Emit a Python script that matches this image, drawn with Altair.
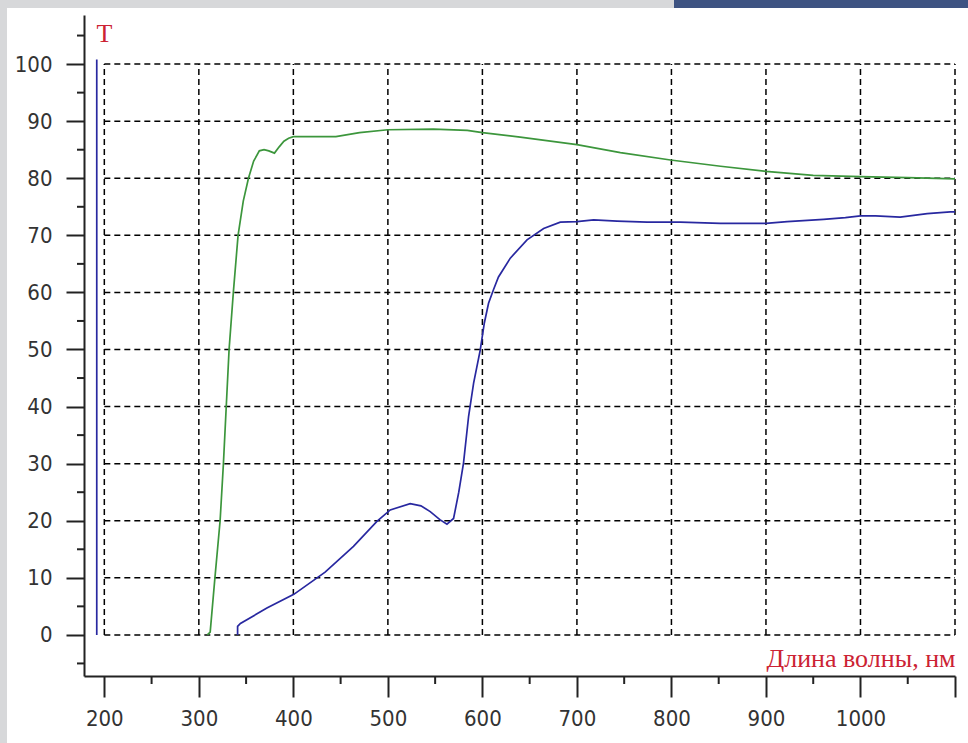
import altair as alt
import pandas as pd

# ---- data ----
green_wl = [309, 312, 317, 322.5, 326, 329, 332, 336.5, 341.5, 347, 352.5, 358, 364, 369, 374,
            380, 385, 390, 395, 400, 445, 470, 500, 548, 584, 600, 640, 700, 746, 799, 852,
            900, 950, 1000, 1050, 1100]
green_t = [0, 0.5, 10, 20, 30, 40, 50, 60, 70, 76, 80, 83, 84.8, 85.0, 84.8,
           84.4, 85.5, 86.5, 87.0, 87.3, 87.3, 88.0, 88.5, 88.6, 88.4, 88.0, 87.2, 85.9, 84.5, 83.2, 82.1,
           81.2, 80.5, 80.3, 80.1, 79.9]

blue_wl = [341, 341, 344, 372, 400.5, 433.6, 463.6, 488.4, 502.5, 523.6, 535, 544.8, 555, 562.5,
           569.5, 575, 580, 585.4, 590.7, 597.7, 602, 606.5, 611.8, 617, 629.5, 647.2, 664.8,
           682.4, 700, 717.7, 742.5, 774.2, 809.5, 851.8, 900, 922.4, 961, 984, 1000, 1016,
           1042, 1070.6, 1095, 1100]
blue_t = [0, 1.5, 2.0, 4.7, 7.1, 11.0, 15.5, 19.9, 21.9, 23.0, 22.6, 21.6, 20.2, 19.4,
          20.4, 25.0, 30.1, 38.3, 44.1, 49.9, 54.6, 58.1, 60.5, 62.7, 66.0, 69.2, 71.2,
          72.3, 72.4, 72.7, 72.5, 72.3, 72.3, 72.1, 72.1, 72.4, 72.8, 73.1, 73.4, 73.4,
          73.2, 73.8, 74.1, 74.1]

spike_wl = [192, 192]
spike_t = [0, 100.8]

x_ticks = list(range(200, 1101, 100))
y_ticks = list(range(0, 101, 10))
x_minor = list(range(250, 1100, 100))
y_minor = [-5] + list(range(5, 106, 10))

# ---- layout ----
W, H = 871, 661
XS = alt.Scale(domain=[178.5, 1100], nice=False, zero=False)
YS = alt.Scale(domain=[-7.2, 108.6], nice=False, zero=False)
LABEL_FONT = "DejaVu Sans Condensed, Liberation Sans Narrow, sans-serif"
RED = "#cc2233"
AXC = "#222222"

X_AXIS = alt.Axis(
    values=x_ticks, format="d", labelExpr="datum.value > 1050 ? '' : datum.label",
    labelOverlap=False, labelFlush=False, grid=False,
    tickSize=21, tickWidth=2, tickColor=AXC, domainColor=AXC, domainWidth=2,
    labelFont=LABEL_FONT, labelFontSize=22, labelColor="#333333", labelPadding=11,
    title="Длина волны, нм", titleX=W, titleY=-10, titleAlign="right",
    titleBaseline="alphabetic", titleFont="Liberation Serif", titleFontSize=26,
    titleFontWeight="normal", titleColor=RED, zindex=1)
Y_AXIS = alt.Axis(
    values=y_ticks, format="d", grid=False, labelOverlap=False, labelFlush=False,
    tickSize=18, tickWidth=2, tickColor=AXC, domainColor=AXC, domainWidth=2,
    labelFont=LABEL_FONT, labelFontSize=22, labelColor="#333333", labelPadding=14,
    title="T", titleAngle=0, titleX=12, titleY=26, titleAlign="left",
    titleBaseline="alphabetic", titleFont="Liberation Serif", titleFontSize=26,
    titleFontWeight="normal", titleColor=RED, zindex=1)

one = pd.DataFrame({"a": [0]})

grey_left = alt.Chart(one).mark_rect(color="#d7d8da").encode(
    x=alt.value(-84), x2=alt.value(-77), y=alt.value(-15), y2=alt.value(728))
grey_top = alt.Chart(one).mark_rect(color="#d7d8da").encode(
    x=alt.value(-84), x2=alt.value(590), y=alt.value(-15), y2=alt.value(-7))
band = alt.Chart(one).mark_rect(color="#3e5382").encode(
    x=alt.value(590), x2=alt.value(884), y=alt.value(-15), y2=alt.value(-7))

vgrid = alt.Chart(pd.DataFrame({"x": x_ticks, "y0": [0] * len(x_ticks), "y1": [100] * len(x_ticks)})).mark_rule(
    color="black", strokeDash=[6, 4], strokeWidth=1.5).encode(
    x=alt.X("x:Q", scale=XS, axis=X_AXIS),
    y=alt.Y("y0:Q", scale=YS, axis=Y_AXIS),
    y2="y1:Q")
hgrid = alt.Chart(pd.DataFrame({"y": y_ticks, "x0": [200] * len(y_ticks), "x1": [1100] * len(y_ticks)})).mark_rule(
    color="black", strokeDash=[6, 4], strokeWidth=1.5).encode(
    y=alt.Y("y:Q", scale=YS, axis=Y_AXIS),
    x=alt.X("x0:Q", scale=XS, axis=X_AXIS),
    x2="x1:Q")

yminor = alt.Chart(pd.DataFrame({"y": y_minor})).mark_rule(color=AXC, strokeWidth=2).encode(
    y=alt.Y("y:Q", scale=YS, axis=Y_AXIS), x=alt.value(-7), x2=alt.value(0))
xminor = alt.Chart(pd.DataFrame({"x": x_minor})).mark_rule(color=AXC, strokeWidth=2).encode(
    x=alt.X("x:Q", scale=XS, axis=X_AXIS), y=alt.value(H), y2=alt.value(H + 8))

green = alt.Chart(pd.DataFrame({"wl": green_wl, "t": green_t})).mark_line(
    color="#3c963c", strokeWidth=1.7).encode(
    x=alt.X("wl:Q", scale=XS, axis=X_AXIS),
    y=alt.Y("t:Q", scale=YS, axis=Y_AXIS),
    order="wl:Q")
blue = alt.Chart(pd.DataFrame({"wl": blue_wl, "t": blue_t, "i": list(range(len(blue_wl)))})).mark_line(
    color="#2828a0", strokeWidth=1.7).encode(
    x=alt.X("wl:Q", scale=XS, axis=X_AXIS),
    y=alt.Y("t:Q", scale=YS, axis=Y_AXIS),
    order="i:Q")
spike = alt.Chart(pd.DataFrame({"wl": spike_wl, "t": spike_t, "i": [0, 1]})).mark_line(
    color="#2828a0", strokeWidth=1.7).encode(
    x=alt.X("wl:Q", scale=XS, axis=X_AXIS),
    y=alt.Y("t:Q", scale=YS, axis=Y_AXIS),
    order="i:Q")

chart = alt.layer(
    grey_left, grey_top, band, vgrid, hgrid, yminor, xminor, green, blue, spike
).properties(
    width=W, height=H,
    autosize=alt.AutoSizeParams(type="none"),
    padding={"left": 84, "top": 15, "right": 13, "bottom": 67},
    background="white",
).configure_view(stroke=None)

chart.save("out.html", embed_options={"renderer": "svg", "actions": False})
